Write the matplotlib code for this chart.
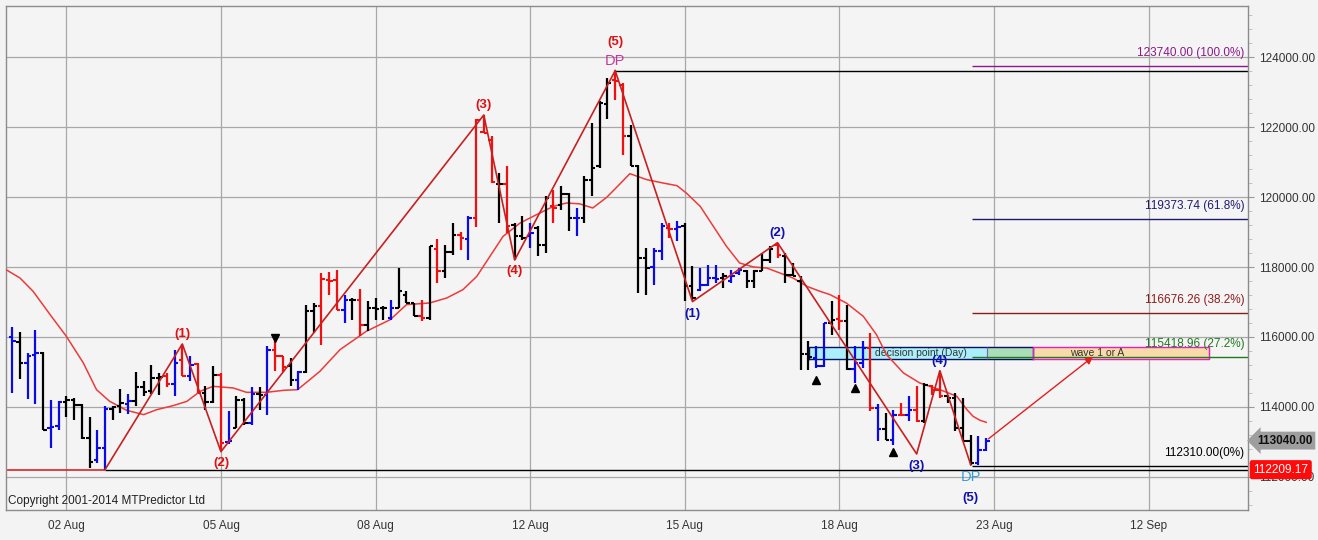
import matplotlib
matplotlib.use('Agg')
import matplotlib.pyplot as plt
import numpy as np
from matplotlib.ticker import MultipleLocator, FixedLocator, FuncFormatter

# OHLC bars (one per bar, left to right)
opens = [115990, 115847, 115257, 115495, 115543, 113400, 113447, 114133, 114190, 114067,
         113114, 112476, 112819, 113943, 114019, 114095, 114162, 114571, 114448, 114828,
         114876, 114667, 115352, 114895, 115228, 114400, 114133, 114924, 112990, 113400,
         114209, 113543, 114381, 114352, 115638, 115448, 115162, 114781, 114990, 116733,
         116876, 117619, 117619, 116781, 117067, 117067, 116352, 116829, 116829, 116543,
         116829, 117210, 116972, 116590, 116543, 118514, 117876, 118419, 118924, 118800,
         119400, 121848, 121638, 120381, 120381, 119210, 118876, 118876, 119114, 118638,
         119733, 119781, 120095, 119400, 119400, 120495, 120876, 122667, 123352, 123210,
         121752, 120895, 118257, 118000, 118448, 119114, 119086, 119162, 117448, 117352,
         117495, 117686, 117686, 117590, 117829, 117876, 117590, 117876, 118210, 118638,
         118305, 117781, 117590, 115524, 115400, 115181, 116400, 116514, 116448, 115086,
         115257, 115686, 113971, 113371, 113067, 113781, 113781, 113924, 113590, 114590,
         114495, 114305, 114257, 113400, 113019, 112400, 112762]
highs = [116286, 116133, 115543, 116209, 115562, 114209, 114162, 114305, 114257, 114095,
         113714, 113352, 114038, 114019, 114514, 114381, 114990, 114733, 115209, 114971,
         114971, 115638, 115800, 115466, 115257, 114610, 115162, 114971, 113876, 114305,
         114257, 114571, 114562, 115733, 115876, 115466, 115400, 115019, 116924, 116972,
         117829, 117848, 117924, 117210, 117114, 117372, 117019, 117114, 116876, 117067,
         117972, 117305, 116972, 117067, 118590, 118800, 118638, 119257, 118990, 119448,
         122229, 122352, 121733, 120686, 120876, 119257, 119448, 119257, 119162, 120019,
         120210, 120305, 120114, 119686, 120590, 122114, 122733, 123400, 123610, 123257,
         122067, 120924, 118543, 118543, 119257, 119257, 119305, 119257, 118019, 117971,
         118067, 118067, 117829, 117924, 117971, 117924, 117924, 118400, 118610, 118686,
         118400, 118114, 117733, 115876, 115733, 116400, 117019, 117210, 116924, 115733,
         115876, 116114, 114095, 113829, 113924, 114114, 114305, 114590, 114686, 114638,
         115037, 114352, 114400, 114257, 113210, 113162, 113114]
lows = [114400, 114800, 114228, 114095, 113333, 112828, 113352, 113714, 113638, 113085,
        112257, 112400, 112209, 113638, 113829, 113810, 114019, 114324, 114381, 114352,
        114571, 114305, 114876, 114733, 114400, 113924, 114114, 112733, 112952, 113400,
        113495, 113495, 113924, 113781, 115019, 114990, 114590, 114495, 114971, 116114,
        115781, 117210, 116781, 116400, 116495, 116019, 116162, 116495, 116495, 116495,
        116829, 116972, 116590, 116448, 116495, 117543, 117686, 118352, 118495, 118190,
        119143, 121829, 120400, 119257, 118971, 118210, 118781, 118543, 118305, 118400,
        119257, 119638, 119019, 118876, 119257, 120019, 120829, 122229, 122781, 121210,
        120876, 117257, 117210, 117495, 118210, 118829, 118733, 117019, 117067, 117305,
        117448, 117543, 117400, 117543, 117781, 117400, 117400, 117876, 118114, 118257,
        117543, 117733, 115067, 115067, 115114, 115143, 116067, 116210, 115067, 114686,
        115114, 113876, 113019, 113067, 112924, 113733, 113590, 113562, 113543, 114352,
        114257, 114114, 113305, 113019, 112352, 112352, 112733]
closes = [115876, 115257, 115466, 115543, 113352, 113428, 114133, 114209, 114067, 113114,
          112438, 112819, 113943, 114000, 114114, 114162, 114571, 114419, 114828, 114857,
          114667, 115257, 114876, 115209, 114400, 114133, 114924, 112971, 113019, 114190,
          113543, 114381, 114352, 115638, 115448, 115143, 114781, 114990, 116733, 116876,
          117657, 117590, 116781, 117067, 117067, 116352, 116829, 116800, 116829, 116829,
          117305, 116972, 116590, 116543, 118590, 117876, 118419, 118924, 118829, 119400,
          122210, 121829, 120419, 120381, 119162, 118876, 118829, 118971, 118638, 119972,
          119686, 120095, 119400, 119400, 120495, 120829, 122686, 123257, 123305, 121733,
          120895, 118257, 117971, 118448, 119162, 119086, 119143, 117448, 117114, 117495,
          117686, 117657, 117733, 117733, 117924, 117590, 117876, 118210, 118514, 118352,
          117781, 117733, 115524, 115429, 115181, 116400, 116495, 116448, 115086, 115257,
          115686, 113971, 113371, 113067, 113781, 113781, 113924, 113590, 114638, 114495,
          114324, 114257, 113400, 113019, 112400, 112762, 113040]
bar_codes = ("bkbbkbbkkkkbbkkbkkkkrbrbrkkrbkkbkbrrkbkk"
             "rrrbkrkkkbkkkrkrkkrbrrrkrkkbkkrkkbkkk"
             "krrkkkbbrbkkbbbkbbkkkkrkkk"
             "kbbkrkbbrbkbrbrkrrkkkkbb")

# moving average (bar position, price)
ma_x = [-0.8, 1.0, 2.7, 4.9, 7.0, 9.2, 10.9, 12.6, 14.8, 17.0, 18.7, 20.8, 22.6, 24.3,
        26.0, 28.6, 30.3, 32.9, 35.1, 36.9, 38.5, 39.8, 42.4, 45.8, 48.9, 51.0, 54.0,
        56.2, 58.3, 60.1, 61.8, 63.5, 65.7, 67.4, 70.0, 71.7, 73.4, 75.1, 76.9, 78.6,
        79.9, 82.1, 84.2, 86.0, 87.2, 89.0, 90.7, 92.4, 94.1, 95.9, 97.6, 99.3, 101.0,
        102.8, 104.5, 105.8, 107.9, 110.1, 111.8, 113.1, 115.3, 117.4, 120.0, 122.2,
        123.5, 124.3, 125.2, 126.0]
ma_y = [117924, 117686, 117305, 116638, 116019, 115257, 114495, 114162, 113905, 113781,
        113924, 114038, 114162, 114448, 114590, 114543, 114419, 114419, 114476, 114495,
        114781, 115019, 115638, 116162, 116495, 116924, 116972, 117114, 117352, 117733,
        118305, 118876, 119257, 119448, 119733, 119829, 119805, 119686, 119990, 120370,
        120667, 120495, 120400, 120324, 120114, 119733, 119162, 118590, 118114, 118000,
        117971, 117829, 117686, 117448, 117305, 117210, 116971, 116590, 116067, 115495,
        114971, 114686, 114495, 114305, 113924, 113733, 113619, 113562]

# elliott wave zigzags
up_x = [12, 22, 27, 61, 65, 78]
up_y = [112209, 115800, 112723, 122343, 118200, 123610]
down_x = [78, 88, 99, 117, 120, 124]
down_y = [123610, 117010, 118695, 112657, 115037, 112343]
wave_labels = ['(1)', '(2)', '(3)', '(4)', '(5)']

fib_values = [123740.00, 119373.74, 116676.26, 115418.96, 112310.00]
fib_labels = ['123740.00 (100.0%)', '119373.74 (61.8%)', '116676.26 (38.2%)',
              '115418.96 (27.2%)', '112310.00(0%)']
fib_colors = ['#8a1a8a', '#1c1c6e', '#8b1c1c', '#1f7a1f', '#000000']

date_pos = [7, 27, 47, 67, 87, 107, 127, 147]
date_labels = ['02 Aug', '05 Aug', '08 Aug', '12 Aug', '15 Aug', '18 Aug', '23 Aug', '12 Sep']

low_price = 112209.17
top_price = 123610
last_price = 113040.00

plt.rcParams['font.family'] = ['Liberation Sans', 'DejaVu Sans']

fig = plt.figure(figsize=(13.18, 5.40), dpi=100)
fig.patch.set_facecolor('#f3f3f3')
ax = fig.add_axes([0.0043, 0.0556, 0.9428, 0.9338])
ax.set_facecolor('#f4f4f4')
ax.set_xlim(-0.85, 159.9)
ax.set_ylim(111057, 125466)

for s in ax.spines.values():
    s.set_color('#8c8c8c')
    s.set_linewidth(1)

ax.yaxis.tick_right()
ax.yaxis.set_major_locator(MultipleLocator(2000))
ax.yaxis.set_minor_locator(MultipleLocator(400))
ax.yaxis.set_major_formatter(FuncFormatter(lambda v, p: '%.2f' % v))
ax.tick_params(axis='y', which='major', length=4, color='#999999', labelsize=8.5,
               labelcolor='#333333', pad=4)
ax.tick_params(axis='y', which='minor', length=3, color='#bbbbbb')
ax.xaxis.set_major_locator(FixedLocator(date_pos))
ax.set_xticklabels(date_labels)
ax.tick_params(axis='x', length=0, labelsize=8.5, labelcolor='#333333', pad=7)
ax.grid(True, which='major', color='#a8a8a8', lw=0.9)
ax.set_axisbelow(True)

# horizontal reference lines
ax.hlines(low_price, -1, 12, color='#e02020', lw=1.2, zorder=2)
ax.hlines(low_price, 12, 161, color='#000000', lw=1.0, zorder=2)
ax.hlines(top_price, 78, 161, color='#000000', lw=1.0, zorder=2)

# decision point / wave boxes
ax.fill_between([103.1, 126.1], 115363, 115723, color='#abeffa', zorder=2)
ax.fill_between([126.1, 132.0], 115363, 115723, color='#a9deb9', zorder=2)
ax.fill_between([132.0, 154.8], 115363, 115723, color='#f9dba9', zorder=2)
ax.plot([103.1, 132.0, 132.0, 103.1, 103.1], [115363, 115363, 115723, 115723, 115363],
        color='#101060', lw=1.0, zorder=2.1)
ax.plot([132.0, 154.8, 154.8, 132.0, 132.0], [115363, 115363, 115723, 115723, 115363],
        color='#e020c8', lw=1.0, zorder=2.1)
ax.vlines(126.1, 115363, 115723, color='#8060c0', lw=0.8, zorder=2.1)
ax.text(117.6, 115545, 'decision point (Day)', fontsize=7.5, color='#333333',
        ha='center', va='center', zorder=2.2)
ax.text(140.3, 115545, 'wave 1 or A', fontsize=7.5, color='#333333',
        ha='center', va='center', zorder=2.2)

# fib levels
for v, lab, c in zip(fib_values, fib_labels, fib_colors):
    ax.hlines(v, 124.1, 161, color=c, lw=1.0, zorder=2.3)
    ax.annotate(lab, xy=(0.997, v), xycoords=ax.get_yaxis_transform(),
                xytext=(0, 5), textcoords='offset points', ha='right', va='bottom',
                fontsize=8.5, color=c, zorder=4)

# moving average
ax.plot(ma_x, ma_y, color='#ee3a3a', lw=1.1, zorder=3)

# bars
cmap = {'k': '#000000', 'b': '#0a0ae6', 'r': '#f01010'}
cols = [cmap[c] for c in bar_codes]
x = np.arange(len(opens))
tk = 0.45
ax.vlines(x, lows, highs, colors=cols, lw=1.6, zorder=3.2)
ax.hlines(opens, x - tk, x, colors=cols, lw=1.5, zorder=3.2)
ax.hlines(closes, x, x + tk, colors=cols, lw=1.5, zorder=3.2)

# zigzags
ax.plot(up_x, up_y, color='#c82020', lw=1.2, zorder=3.4)
ax.plot(down_x, down_y, color='#c82020', lw=1.2, zorder=3.4)

up_off = [7, -8, 7, -8, 21]
for i, lab in enumerate(wave_labels):
    ax.annotate(lab, xy=(up_x[i + 1], up_y[i + 1]), xytext=(0, up_off[i]),
                textcoords='offset points', ha='center', va='center', fontsize=9.5,
                fontweight='bold', color='#e01010', zorder=5)
down_off = [-9, 7, -9, 7, -24]
for i, lab in enumerate(wave_labels):
    ax.annotate(lab, xy=(down_x[i + 1], down_y[i + 1]), xytext=(0, down_off[i]),
                textcoords='offset points', ha='center', va='center', fontsize=9.5,
                fontweight='bold', color='#1010b0', zorder=5)
ax.annotate('DP', xy=(up_x[-1], up_y[-1]), xytext=(0, 7), textcoords='offset points',
            ha='center', va='center', fontsize=10.5, color='#c2389c', zorder=5)
ax.annotate('DP', xy=(down_x[-1], down_y[-1]), xytext=(0, -9), textcoords='offset points',
            ha='center', va='center', fontsize=10.5, color='#3a9ad9', zorder=5)

# signal triangles
ax.plot([34], [115971], marker='v', color='black', ms=6, ls='none', zorder=5)
ax.plot([104, 109, 114], [114771, 114543, 112714], marker='^', color='black', ms=6,
        ls='none', zorder=5)

# projection arrow
ax.annotate('', xy=(140.1, 115486), xytext=(126, last_price),
            arrowprops=dict(arrowstyle='-|>', color='#e02020', lw=1.0, mutation_scale=11),
            zorder=5)

# price labels on the right
ax.text(1.007, last_price, '%.2f' % last_price, transform=ax.get_yaxis_transform(),
        ha='left', va='center', fontsize=8.5, fontweight='bold', color='#111111',
        bbox=dict(boxstyle='larrow,pad=0.25', fc='#9e9e9e', ec='none'), clip_on=False,
        zorder=6)
ax.text(1.004, low_price, '%.2f' % low_price, transform=ax.get_yaxis_transform(),
        ha='left', va='center', fontsize=8.5, color='white',
        bbox=dict(boxstyle='round,pad=0.3,rounding_size=0.2', fc='#ff0a0a', ec='none'),
        clip_on=False, zorder=6)

ax.text(0.002, 0.018, 'Copyright 2001-2014 MTPredictor Ltd', transform=ax.transAxes,
        ha='left', va='center', fontsize=8.5, color='#222222')

fig.savefig('out.png', dpi=100, facecolor=fig.get_facecolor())
